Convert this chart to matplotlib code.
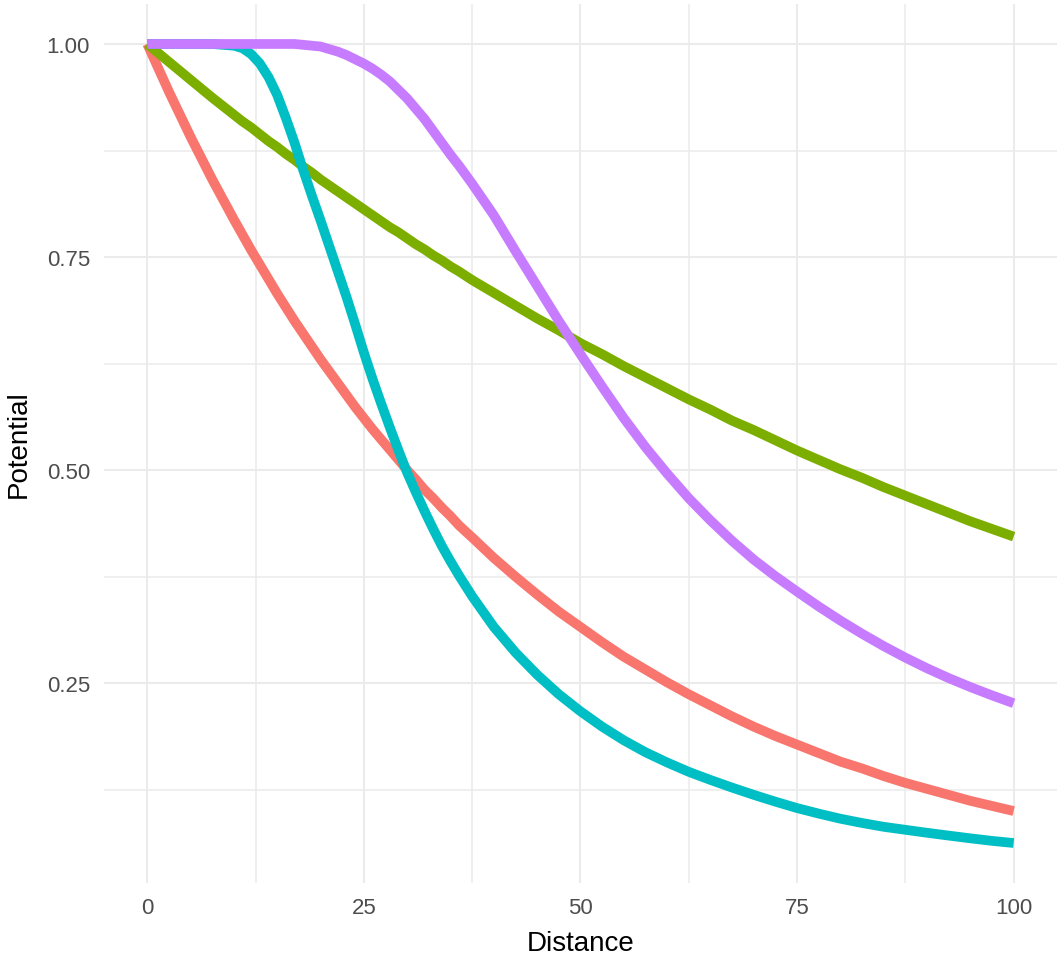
# distance decay curves
import matplotlib.pyplot as plt
from matplotlib.ticker import MultipleLocator

plt.rcParams['font.family'] = ['Liberation Sans', 'DejaVu Sans']

distance = [0, 2.5, 5, 7.5,
            10, 11, 12, 13, 14, 15, 16, 17, 18, 19, 20, 21, 22, 23, 24, 25, 26, 27, 28,
            29, 30, 31, 32, 33, 34, 35, 36,
            37.5, 40, 42.5, 45, 47.5, 50, 52.5, 55, 57.5, 60, 62.5, 65, 67.5, 70, 72.5,
            75, 77.5, 80, 82.5, 85, 87.5, 90, 92.5, 95, 97.5, 100]

# values
red = [1.000, 0.944, 0.891, 0.841,
       0.794, 0.776, 0.758, 0.741, 0.724, 0.707, 0.691, 0.675, 0.660, 0.645, 0.630, 0.616,
       0.602, 0.588, 0.574, 0.561, 0.548, 0.536, 0.524, 0.512, 0.500, 0.489, 0.477, 0.467,
       0.456, 0.446, 0.435,
       0.421, 0.397, 0.375, 0.354, 0.334, 0.316, 0.298, 0.281, 0.266, 0.251, 0.237, 0.224,
       0.211, 0.199, 0.188, 0.178, 0.168, 0.158, 0.150, 0.141, 0.133, 0.126, 0.119, 0.112,
       0.106, 0.100]
green = [1.000, 0.979, 0.958, 0.937,
         0.917, 0.909, 0.902, 0.894, 0.886, 0.879, 0.871, 0.864, 0.856, 0.849, 0.841, 0.834,
         0.827, 0.820, 0.813, 0.806, 0.799, 0.792, 0.785, 0.779, 0.772, 0.765, 0.759, 0.752,
         0.746, 0.739, 0.733,
         0.723, 0.708, 0.693, 0.678, 0.664, 0.649, 0.636, 0.622, 0.609, 0.596, 0.583, 0.571,
         0.558, 0.547, 0.535, 0.523, 0.512, 0.501, 0.491, 0.480, 0.470, 0.460, 0.450, 0.440,
         0.431, 0.422]
teal = [1.000, 1.000, 1.000, 1.000,
        0.998, 0.995, 0.988, 0.977, 0.961, 0.940, 0.913, 0.884, 0.852, 0.822, 0.793, 0.763,
        0.733, 0.703, 0.671, 0.638, 0.607, 0.578, 0.550, 0.523, 0.497, 0.474, 0.452, 0.431,
        0.411, 0.393, 0.376,
        0.352, 0.316, 0.286, 0.260, 0.237, 0.217, 0.199, 0.183, 0.169, 0.157, 0.146, 0.1365,
        0.1275, 0.119, 0.111, 0.1035, 0.097, 0.091, 0.086, 0.0815, 0.078, 0.0745, 0.0712,
        0.068, 0.065, 0.0625]
purple = [1.000, 1.000, 1.000, 1.000,
          1.000, 1.000, 1.000, 1.000, 1.000, 1.000, 1.000, 1.000, 0.999, 0.998, 0.997, 0.994,
          0.991, 0.987, 0.982, 0.977, 0.971, 0.964, 0.956, 0.946, 0.936, 0.924, 0.912, 0.898,
          0.884, 0.870, 0.857,
          0.836, 0.799, 0.757, 0.716, 0.675, 0.636, 0.598, 0.561, 0.527, 0.496, 0.467, 0.441,
          0.417, 0.395, 0.3755, 0.3575, 0.340, 0.3235, 0.308, 0.2935, 0.280, 0.2675, 0.256,
          0.2455, 0.2357, 0.2265]

series = [red, green, teal, purple]
colors = ['#F8766D', '#7CAE00', '#00BFC4', '#C77CFF']

fig = plt.figure(figsize=(10.64, 9.62), dpi=100)
ax = fig.add_axes([0.0977, 0.0811, 0.8957, 0.9137])

for values, col in zip(series, colors):
    ax.plot(distance, values, color=col, lw=7, solid_capstyle='butt',
            solid_joinstyle='round', zorder=3)

ax.set_xlim(-5, 105)
ax.set_ylim(0.0156, 1.0469)
ax.xaxis.set_major_locator(MultipleLocator(25))
ax.xaxis.set_minor_locator(MultipleLocator(12.5))
ax.set_yticks([0.25, 0.50, 0.75, 1.00])
ax.set_yticks([0.125, 0.375, 0.625, 0.875], minor=True)
ax.set_yticklabels(['0.25', '0.50', '0.75', '1.00'])

ax.grid(which='major', color='#EBEBEB', lw=1.5, zorder=0)
ax.grid(which='minor', color='#EBEBEB', lw=1.1, zorder=0)
ax.set_axisbelow(True)
for s in ax.spines.values():
    s.set_visible(False)
ax.tick_params(which='both', length=0, labelsize=16, labelcolor='#4D4D4D', pad=10)

ax.set_xlabel('Distance', fontsize=20, labelpad=9)
ax.set_ylabel('Potential', fontsize=20, labelpad=11)

plt.savefig('out.png', dpi=100)
